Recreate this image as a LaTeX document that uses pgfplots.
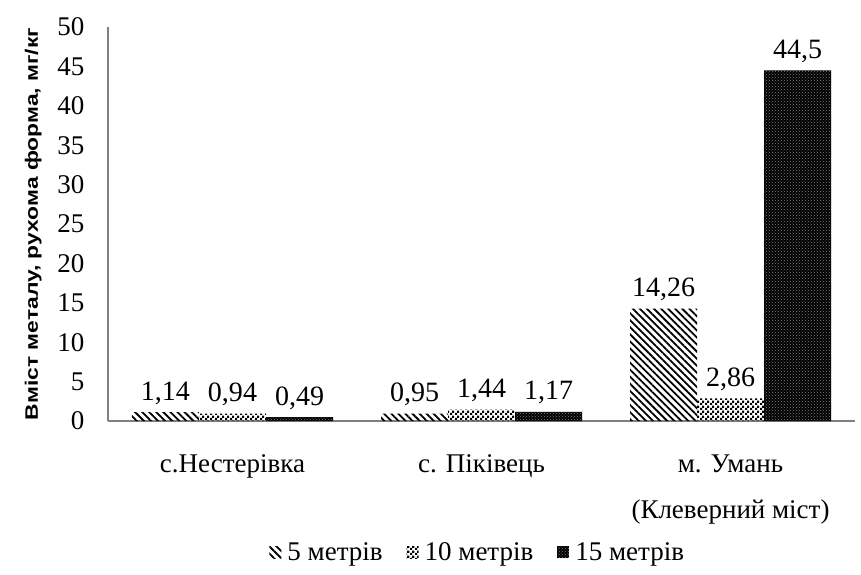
\documentclass[border=0pt]{standalone}
\usepackage{fontspec}
\setmainfont{Liberation Serif}
\newfontfamily\labfont{Liberation Sans}[FakeStretch=1.27]
\usepackage{pgfplots}
\pgfplotsset{compat=1.18}
\usetikzlibrary{patterns,patterns.meta}

% checkerboard like the original
\pgfdeclarepatternformonly{finecheck}{\pgfqpoint{0pt}{0pt}}{\pgfqpoint{5pt}{5pt}}{\pgfqpoint{5pt}{5pt}}{%
  \pgfpathrectangle{\pgfqpoint{0pt}{0pt}}{\pgfqpoint{2.5pt}{2.5pt}}%
  \pgfpathrectangle{\pgfqpoint{2.5pt}{2.5pt}}{\pgfqpoint{2.5pt}{2.5pt}}%
  \pgfusepath{fill}}

\pgfplotstableread{
x  m5     m10   m15
0  1.14   0.94  0.49
1  0.95   1.44  1.17
2  14.26  2.86  44.5
}\metals

\begin{document}
\begin{tikzpicture}
\path[use as bounding box] (-108pt,-153pt) rectangle (753pt,421pt);
\begin{axis}[
    scale only axis,
    width=747pt, height=394pt,
    ybar=0pt,
    bar width=67pt,
    xmin=-0.5, xmax=2.5,
    ymin=0, ymax=50,
    xtick={0,1,2},
    xticklabels={с.Нестерівка, с. Піківець, {м. Умань\\(Клеверний міст)}},
    ytick={0,5,...,50},
    axis x line*=bottom,
    axis y line*=left,
    axis line style={gray, line width=1.2pt, -},
    major tick length=0pt,
    /pgf/number format/assume math mode=true,
    tick label style={font=\fontsize{27}{46}\selectfont},
    yticklabel style={xshift=-20pt},
    xticklabel style={align=center, yshift=-30pt},
    ylabel={Вміст металу, рухома форма, мг/кг},
    ylabel style={at={(axis description cs:-0.1,0.5)}, anchor=center,
        font=\labfont\bfseries\fontsize{18}{20}\selectfont},
    nodes near coords,
    nodes near coords style={font=\fontsize{28}{30}\selectfont, text=black, yshift=4pt,
        /pgf/number format/use comma, /pgf/number format/assume math mode=true},
    legend style={at={(0.495,-0.333)}, anchor=center, draw=none,
        legend columns=-1, font=\fontsize{27}{30}\selectfont,
        /tikz/every odd column/.append style={column sep=4pt},
        /tikz/every even column/.append style={column sep=22pt}},
    legend image code/.code={\path[#1,draw=none] (0pt,-6pt) rectangle (12pt,6pt);},
]
\addplot[draw=none, pattern={Lines[angle=-45,distance=5pt,line width=1.8pt]}]
    table[x=x, y=m5] {\metals};
\addplot[draw=none, pattern=finecheck]
    table[x=x, y=m10] {\metals};
\addplot[draw=none, fill=black, postaction={pattern=crosshatch dots, pattern color=gray}]
    table[x=x, y=m15] {\metals};
\legend{5 метрів, 10 метрів, 15 метрів}
\end{axis}
\end{tikzpicture}
\end{document}
